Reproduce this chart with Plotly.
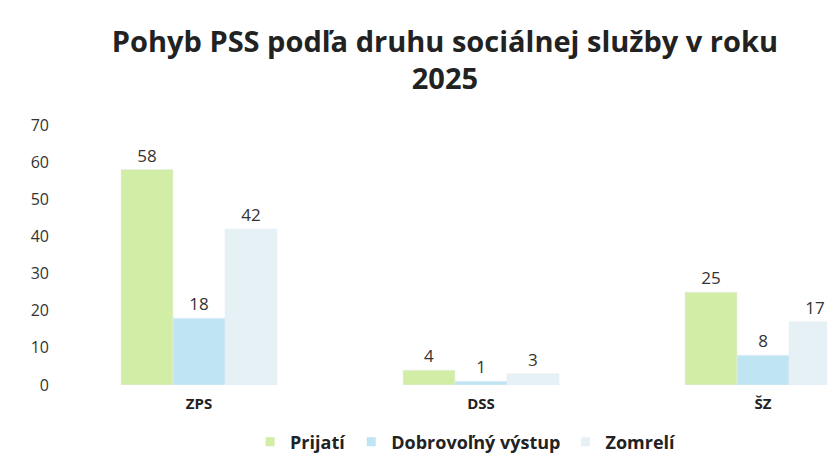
import plotly.graph_objects as go

categories = ['ZPS', 'DSS', 'ŠZ']
prijati = [58, 4, 25]
dobrovolny_vystup = [18, 1, 8]
zomreli = [42, 3, 17]
series_names = ['Prijatí', 'Dobrovoľný výstup', 'Zomrelí']
colors = ['#d2eda6', '#c0e5f2', '#e6f1f6']

fig = go.Figure()
for name, vals, col in zip(series_names, [prijati, dobrovolny_vystup, zomreli], colors):
    fig.add_trace(go.Bar(x=categories, y=vals, name=name, marker_color=col,
                         text=vals, textposition='outside', showlegend=False,
                         textfont=dict(size=17, color='#333333'), cliponaxis=False))

# small square legend markers, like the original
for name, col in zip(series_names, colors):
    fig.add_trace(go.Scatter(x=[None], y=[None], mode='markers', name='<b>%s</b>' % name,
                             marker=dict(symbol='square', size=9, color=col)))

fig.update_layout(
    width=827, height=462,
    paper_bgcolor='white', plot_bgcolor='white',
    font=dict(family='Open Sans', color='#333333'),
    title=dict(text='<b>Pohyb PSS podľa druhu sociálnej služby v roku<br>2025</b>',
               x=0.538, xanchor='center', y=0.888, yanchor='top',
               font=dict(size=29, color='#222222')),
    barmode='group', bargap=0.447, bargroupgap=0,
    margin=dict(l=58, r=0, t=125, b=77),
    # the last group is cut at the right edge, as in the scan
    xaxis=dict(range=[-0.5, 2.227], showline=False, showgrid=False, ticks='',
               automargin=False,
               tickfont=dict(size=15, color='#222222'), ticklabelstandoff=8,
               tickvals=categories, ticktext=['<b>%s</b>' % c for c in categories]),
    yaxis=dict(range=[0, 70], dtick=10, showgrid=False, zeroline=False, showline=False,
               automargin=False,
               tickfont=dict(size=16, color='#333333'), ticklabelstandoff=8),
    showlegend=True,
    legend=dict(orientation='h', x=0.53, xanchor='center', y=0.043, yanchor='middle',
                yref='container', font=dict(size=18, color='#222222'),
                itemwidth=30, traceorder='normal'),
)

fig.write_html('out.html', config=dict(displayModeBar=False),
               post_script="document.body.style.margin='0px';")
